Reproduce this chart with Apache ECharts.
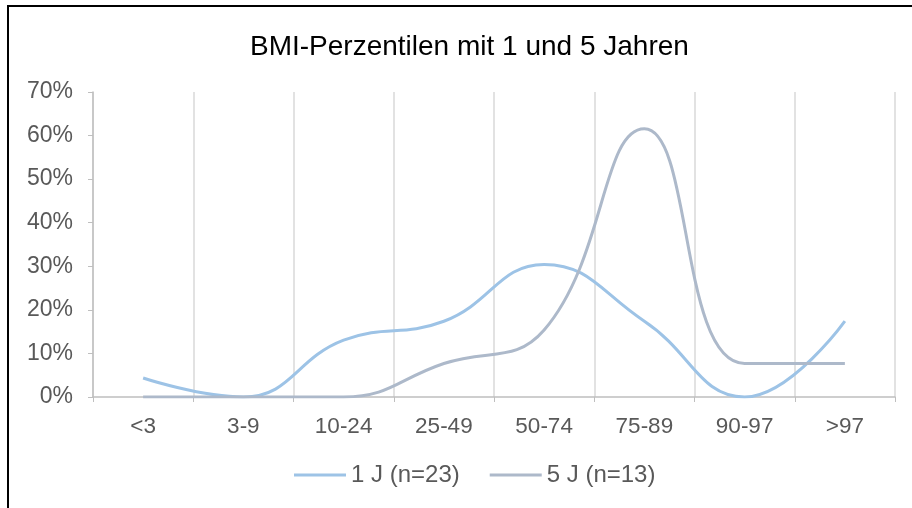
<!DOCTYPE html>
<html>
<head>
<meta charset="utf-8">
<script src="https://cdn.jsdelivr.net/npm/echarts@6/dist/echarts.min.js"></script>
<style>
html,body{margin:0;padding:0;background:#fff;}
#frame{position:absolute;left:7px;top:5px;width:920px;height:520px;border-left:2px solid #000;border-top:2px solid #000;box-sizing:border-box;}
#c{position:absolute;left:0;top:0;width:912px;height:508px;}
</style>
</head>
<body>
<div id="frame"></div>
<div id="c"></div>
<script>
const categories = ['<3','3-9','10-24','25-49','50-74','75-89','90-97','>97'];
const yTicks = [0, 0.1, 0.2, 0.3, 0.4, 0.5, 0.6, 0.7];
const series1Name = '1 J (n=23)';
const series1 = [0.0435, 0, 0.1304, 0.1739, 0.3043, 0.1739, 0, 0.1739];
const series2Name = '5 J (n=13)';
const series2 = [0, 0, 0, 0.0769, 0.1538, 0.6154, 0.0769, 0.0769];

const chart = echarts.init(document.getElementById('c'));
const font = 'Arial, "Liberation Sans", sans-serif';
chart.setOption({
  animation: false,
  title: {
    text: 'BMI-Perzentilen mit 1 und 5 Jahren',
    left: 245, top: 28,
    textStyle: {fontFamily: font, fontSize: 28, fontWeight: 'normal', color: '#000'}
  },
  legend: {
    bottom: 16, left: 289,
    icon: 'rect', itemWidth: 52, itemHeight: 3, itemGap: 30,
    textStyle: {fontFamily: font, fontSize: 24, color: '#595959'},
    data: [series1Name, series2Name]
  },
  grid: {left: 93, right: 17, top: 92, bottom: 111},
  xAxis: {
    type: 'category', data: categories, boundaryGap: true,
    axisLine: {lineStyle: {color: '#BFBFBF', width: 1.5}},
    axisTick: {show: true, length: 5, lineStyle: {color: '#BFBFBF'}},
    axisLabel: {fontFamily: font, fontSize: 22.5, color: '#595959', margin: 18},
    splitLine: {show: true, lineStyle: {color: '#D9D9D9', width: 1.5}}
  },
  yAxis: {
    type: 'value', min: yTicks[0], max: yTicks[yTicks.length-1], interval: 0.1,
    axisLine: {show: true, lineStyle: {color: '#BFBFBF', width: 1.5}},
    axisTick: {show: true, length: 5, lineStyle: {color: '#BFBFBF'}},
    axisLabel: {fontFamily: font, fontSize: 23, color: '#595959', margin: 20,
      formatter: v => Math.round(v*100) + '%'},
    splitLine: {show: false}
  },
  series: [
    {name: series1Name, type: 'line', data: series1, smooth: 0.45, symbol: 'none',
     lineStyle: {color: '#9DC3E6', width: 3}, itemStyle: {color: '#9DC3E6'}},
    {name: series2Name, type: 'line', data: series2, smooth: 0.45, symbol: 'none',
     lineStyle: {color: '#ADB9CA', width: 3}, itemStyle: {color: '#ADB9CA'}}
  ]
});
</script>
</body>
</html>
